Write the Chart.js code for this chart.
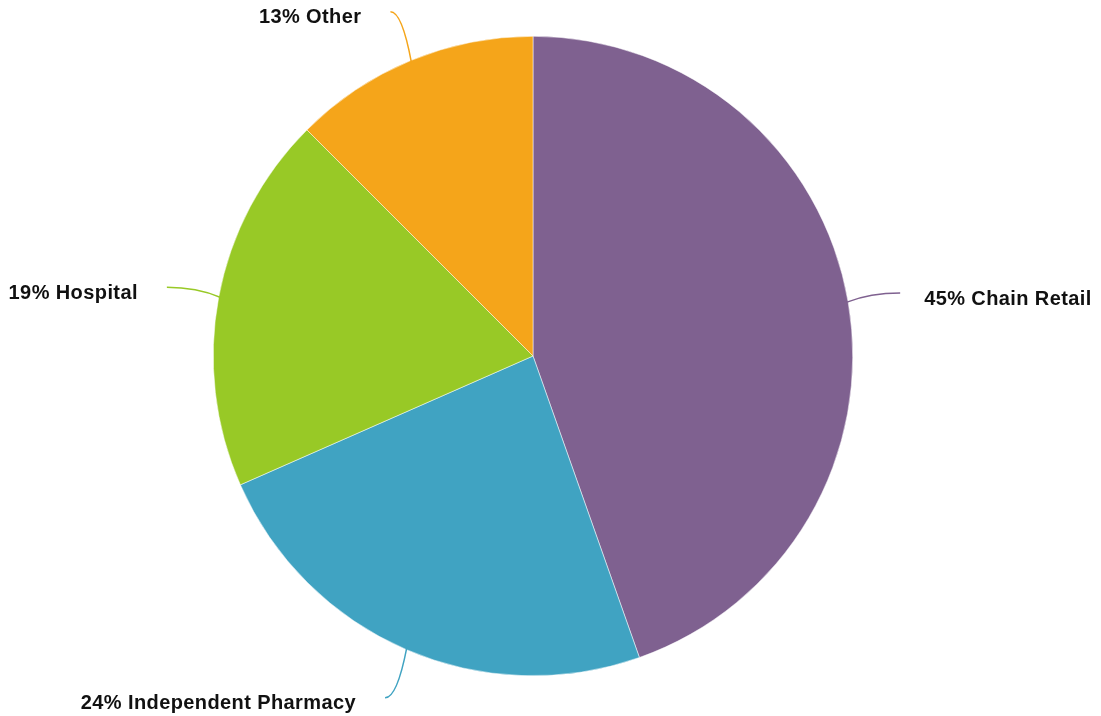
<!DOCTYPE html>
<html>
<head>
<meta charset="utf-8">
<script src="https://cdn.jsdelivr.net/npm/chart.js@4"></script>
<style>
  html, body { margin: 0; padding: 0; background: #fff; }
  #wrap { width: 1101px; height: 716px; }
</style>
</head>
<body>
<div id="wrap"><canvas id="pieChart"></canvas></div>
<script>
const CATEGORIES = ['Chain Retail', 'Independent Pharmacy', 'Hospital', 'Other'];
const SHARES = [44.6, 23.8, 19.1, 12.5];
const SHARE_LABELS = ['45%', '24%', '19%', '13%'];
const COLORS = ['#7f6190', '#40a3c2', '#98c926', '#f5a51a'];

// outside labels with curved leader lines
const leaderLabels = {
    id: 'leaderLabels',
    afterDatasetsDraw(chart) {
        const ctx = chart.ctx;
        const arcs = chart.getDatasetMeta(0).data;
        ctx.save();
        ctx.font = 'bold 20px "Liberation Sans", Arial, sans-serif';
        ctx.letterSpacing = '0.4px';
        ctx.textBaseline = 'middle';
        arcs.forEach((arc, i) => {
            const mid = (arc.startAngle + arc.endAngle) / 2;
            const r = arc.outerRadius;
            const sx = arc.x + Math.cos(mid) * (r - 2);
            const sy = arc.y + Math.sin(mid) * (r - 2);
            const ex = arc.x + Math.cos(mid) * (r * 1.165);
            const ey = arc.y + Math.sin(mid) * (r * 1.165);
            const cx = sx + (ex - sx) * 0.45;
            ctx.strokeStyle = COLORS[i];
            ctx.lineWidth = 1.5;
            ctx.beginPath();
            ctx.moveTo(sx, sy);
            ctx.quadraticCurveTo(cx, ey, ex, ey);
            ctx.stroke();
            const right = Math.cos(mid) >= 0;
            ctx.fillStyle = '#111';
            ctx.textAlign = right ? 'left' : 'right';
            ctx.fillText(SHARE_LABELS[i] + ' ' + CATEGORIES[i], ex + (right ? 24 : -29), ey + 6);
        });
        ctx.restore();
    }
};

new Chart(document.getElementById('pieChart'), {
    type: 'pie',
    data: {
        labels: CATEGORIES,
        datasets: [{
            data: SHARES,
            backgroundColor: COLORS,
            borderColor: '#ffffff',
            borderWidth: 0.5,
        }]
    },
    options: {
        responsive: true,
        maintainAspectRatio: false,
        animation: false,
        layout: { padding: { top: 36, bottom: 40, left: 213, right: 248 } },
        plugins: { legend: { display: false }, tooltip: { enabled: false } }
    },
    plugins: [leaderLabels]
});
</script>
</body>
</html>
